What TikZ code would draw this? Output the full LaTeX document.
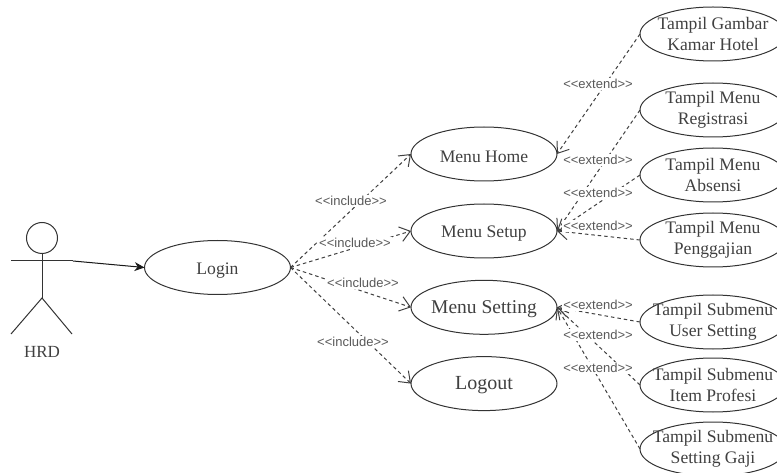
\documentclass[tikz,border=0pt]{standalone}
\usepackage{fontspec}
\setmainfont{Liberation Serif}
\newfontfamily\labelfont{Liberation Sans}
\usetikzlibrary{arrows.meta}
\usetikzlibrary{shapes.geometric}

\begin{document}
\begin{tikzpicture}[x=1pt,y=-1pt,node distance=76.3pt,line width=1pt,
  usecase/.style={draw=black!80,ellipse,minimum width=146pt,minimum height=54pt,inner xsep=-16pt,inner ysep=-6pt,outer sep=0pt,align=center,text=black!75,font=\fontsize{17.6}{20.5}\selectfont,execute at begin node=\rule{0pt}{17pt}},
  include/.style={dashed,dash pattern=on 3.5pt off 3pt,draw=black!75,-{Straight Barb[length=10pt,width=15pt]}},
  tag/.style={fill=white,inner sep=1pt,text=black!65,font=\labelfont\fontsize{13}{14}\selectfont}]
  \useasboundingbox (0,0) rectangle (777,473);
  \clip (0,0) rectangle (777,473);

  \node[usecase] (login) at (217.5,267.5) {Login};

  \node[usecase] (home) at (484,154) {Menu Home};
  \node[usecase,below of =home,node distance=77pt] (setup) {Menu Setup};
  \node[usecase,below of =setup,font=\fontsize{19.5}{20.5}\selectfont] (setting) {Menu Setting};
  \node[usecase,below of =setting,font=\fontsize{20}{20.5}\selectfont] (logout) {Logout};

  \node[usecase] (gambar) at (713,34) {Tampil Gambar\\Kamar Hotel};
  \node[usecase] (registrasi) at (713,110) {Tampil Menu\\Registrasi};
  \node[usecase,below of =registrasi,node distance=65pt] (absensi) {Tampil Menu\\Absensi};
  \node[usecase,below of =absensi,node distance=65pt] (penggajian) {Tampil Menu\\Penggajian};
  \node[usecase] (user) at (713,322) {Tampil Submenu\\User Setting};
  \node[usecase,below of =user,node distance=63pt] (item) {Tampil Submenu\\Item Profesi};
  \node[usecase,below of =item,node distance=64pt] (gaji) {Tampil Submenu\\Setting Gaji};

  % actor
  \node[circle,draw=black!80,minimum size=31pt,inner sep=0pt,outer sep=0pt] (head) at (42,238) {};
  \coordinate (hip) at (42,298);
  \coordinate (armleft) at (11,261);
  \coordinate (armright) at (73,261);
  \coordinate (footleft) at (11,334);
  \coordinate (footright) at (72,334);
  \node[text=black!75,font=\fontsize{17}{18}\selectfont] (hrd) at (42,352) {HRD};
  \draw[black!80](head)--(hip);
  \draw[black!80](armleft)--(armright);
  \draw[black!80](footleft)--(hip)--(footright);
  \draw[black!90,-{Stealth[length=10pt,width=9pt]}](armright)--(login.west);

  \draw[include](login.east)--(home.west);
  \draw[include](login.east)--(setup.west);
  \draw[include](login.east)--(setting.west);
  \draw[include](login.east)--(logout.west);

  \draw[include](gambar.west)--(home.east);
  \draw[include](registrasi.west)--(setup.east);
  \draw[include](absensi.west)--(setup.east);
  \draw[include](penggajian.west)--(setup.east);
  \draw[include](user.west)--(setting.east);
  \draw[include](item.west)--(setting.east);
  \draw[include](gaji.west)--(setting.east);

  \node[tag] (inc1) at (351,201) {<<include>>};
  \node[tag] (inc2) at (355,243) {<<include>>};
  \node[tag] (inc3) at (363,283) {<<include>>};
  \node[tag] (inc4) at (353,342) {<<include>>};

  \node[tag] (ext1) at (598,84) {<<extend>>};
  \node[tag] (ext2) at (598,160) {<<extend>>};
  \node[tag] (ext3) at (598,193) {<<extend>>};
  \node[tag] (ext4) at (598,226) {<<extend>>};
  \node[tag] (ext5) at (598,305) {<<extend>>};
  \node[tag] (ext6) at (598,335) {<<extend>>};
  \node[tag] (ext7) at (598,368) {<<extend>>};
\end{tikzpicture}
\end{document}
